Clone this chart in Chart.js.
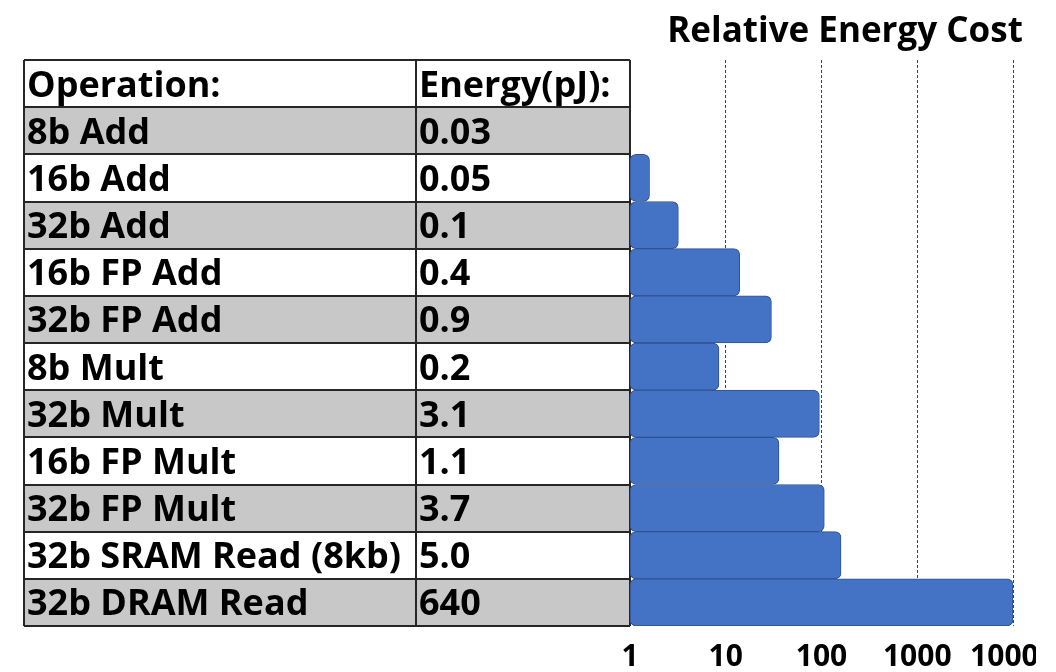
<!DOCTYPE html>
<html>
<head>
<meta charset="utf-8">
<script src="https://cdn.jsdelivr.net/npm/chart.js@4"></script>
<style>
html,body{margin:0;padding:0;background:#fff;width:1056px;height:672px;overflow:hidden}
#wrap{position:absolute;left:0;top:0;width:1036px;height:688px}
</style>
</head>
<body>
<div id="wrap"><canvas id="c"></canvas></div>
<script>
const headerLabels = ['Operation:', 'Energy(pJ):'];
const operations = ['8b Add','16b Add','32b Add','16b FP Add','32b FP Add','8b Mult','32b Mult','16b FP Mult','32b FP Mult','32b SRAM Read (8kb)','32b DRAM Read'];
const energyPJ = ['0.03','0.05','0.1','0.4','0.9','0.2','3.1','1.1','3.7','5.0','640'];
const relativeCost = [1, 1.6, 3.2, 14, 30, 8.5, 95, 36, 107, 160, 10000];
const xTicks = [1, 10, 100, 1000, 10000];
const chartTitle = 'Relative Energy Cost';

const FONT = '"Open Sans", "DejaVu Sans", sans-serif';

const tablePlugin = {
  id: 'energyTable',
  beforeDatasetsDraw(chart) {
    const {ctx, chartArea: a, scales: {y}} = chart;
    const rowH = Math.abs(y.getPixelForValue(1) - y.getPixelForValue(0));
    const left = a.left - 606, mid = a.left - 214, right = a.left;
    const rows = [headerLabels].concat(operations.map((o, i) => [o, energyPJ[i]]));
    const top0 = y.getPixelForValue(0) - rowH / 2;
    ctx.save();
    rows.forEach((r, i) => {
      ctx.fillStyle = (i % 2 === 1) ? '#c8c8c8' : '#ffffff';
      ctx.fillRect(left, top0 + i * rowH, right - left, rowH);
    });
    ctx.strokeStyle = '#262626';
    ctx.lineWidth = 2;
    ctx.beginPath();
    for (let i = 0; i <= rows.length; i++) {
      const yy = Math.round(top0 + i * rowH);
      ctx.moveTo(left, yy); ctx.lineTo(right, yy);
    }
    [left, mid, right].forEach(xx => {
      ctx.moveTo(xx, top0); ctx.lineTo(xx, top0 + rows.length * rowH);
    });
    ctx.stroke();
    ctx.fillStyle = '#000';
    ctx.font = 'bold 36px ' + FONT;
    ctx.textBaseline = 'alphabetic';
    ctx.textAlign = 'left';
    rows.forEach((r, i) => {
      const cy = y.getPixelForValue(i);
      ctx.fillText(r[0], left + 3, cy + 13);
      ctx.fillText(r[1], mid + 3, cy + 13);
    });
    ctx.font = 'bold 35px ' + FONT;
    ctx.textAlign = 'center';
    ctx.fillText(chartTitle, a.left + 215, 42);
    ctx.restore();
  }
};

const labels = [headerLabels[0]].concat(operations);
const values = [null].concat(relativeCost);

new Chart(document.getElementById('c'), {
  type: 'bar',
  data: {
    labels: labels,
    datasets: [{
      data: values,
      backgroundColor: '#4472C4',
      borderColor: '#2F528F',
      borderWidth: 1,
      borderRadius: 6,
      borderSkipped: false,
      categoryPercentage: 1,
      barPercentage: 1
    }]
  },
  options: {
    indexAxis: 'y',
    responsive: true,
    maintainAspectRatio: false,
    animation: false,
    layout: {padding: {left: 630, right: 23, top: 60, bottom: 0}},
    plugins: {legend: {display: false}, tooltip: {enabled: false}, title: {display: false}},
    scales: {
      y: {display: false, offset: true},
      x: {
        type: 'logarithmic',
        min: 1,
        max: 10000,
        afterBuildTicks: s => { s.ticks = xTicks.map(v => ({value: v})); },
        afterFit: s => { s.paddingLeft = 0; s.paddingRight = 0; },
        grid: {
          drawTicks: false,
          lineWidth: 1,
          color: c => (c.tick && c.tick.value === 1) ? 'rgba(0,0,0,0)' : '#444'
        },
        border: {display: false, dash: [3, 2]},
        ticks: {
          color: '#000',
          autoSkip: false,
          maxRotation: 0,
          padding: 16,
          font: {family: FONT, size: 30, weight: 'bold', lineHeight: 1},
          callback: v => String(v)
        }
      }
    }
  },
  plugins: [tablePlugin]
});
</script>
</body>
</html>
